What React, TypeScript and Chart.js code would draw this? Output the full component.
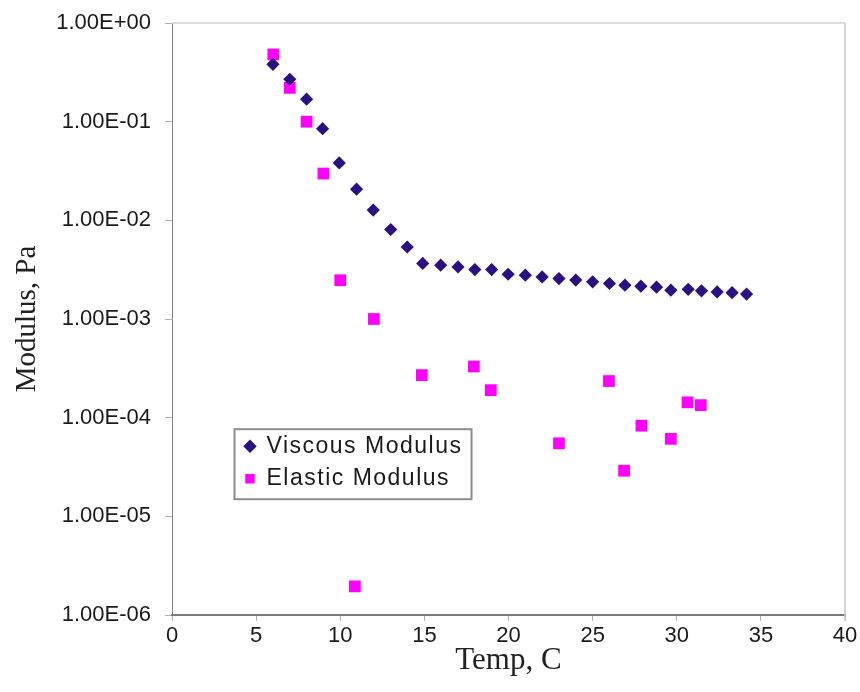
import React, { useEffect, useRef } from "react";
import { Chart, registerables } from "chart.js";

Chart.register(...registerables);

// ---- data ----
const viscousTemp = [6, 7, 8, 8.95, 9.94, 10.97, 11.96, 13, 13.98, 14.9, 15.97, 17, 18, 19, 19.98, 21, 22, 23, 24, 25, 26, 26.92, 27.87, 28.8, 29.65, 30.68, 31.47, 32.4, 33.29, 34.15];
const viscousModulus = [0.381, 0.269, 0.169, 0.085, 0.0382, 0.0207, 0.0127, 0.00807, 0.00537, 0.00366, 0.00351, 0.00337, 0.00317, 0.00317, 0.00284, 0.00278, 0.00267, 0.00257, 0.00248, 0.00238, 0.00229, 0.0022, 0.00215, 0.0021, 0.00196, 0.002, 0.00193, 0.00188, 0.00185, 0.00179];

const elasticTemp = [6.02, 7, 8, 9, 10, 10.87, 12, 14.85, 17.94, 18.95, 23, 25.97, 26.87, 27.9, 29.65, 30.64, 31.43];
const elasticModulus = [0.48, 0.22, 0.1, 0.0298, 0.00247, 1.95e-6, 0.001, 2.7e-4, 3.3e-4, 1.9e-4, 5.5e-5, 2.35e-4, 2.9e-5, 8.3e-5, 6.1e-5, 1.43e-4, 1.34e-4];

const yTickValues = [1e-6, 1e-5, 1e-4, 1e-3, 1e-2, 1e-1, 1];
const yTickLabels = ["1.00E-06", "1.00E-05", "1.00E-04", "1.00E-03", "1.00E-02", "1.00E-01", "1.00E+00"];

const seriesNames = ["Viscous Modulus", "Elastic Modulus"];
const xTitle = "Temp, C";
const yTitle = "Modulus, Pa";

const VISCOUS_COLOR = "#2a1080";
const ELASTIC_COLOR = "#ff00ff";

const frameAndLegendPlugin = {
  id: "frameAndLegend",
  afterLayout(chart: any) {
    const lg = chart.legend;
    const ca = chart.chartArea;
    if (!lg || !ca) return;
    const w = 238;
    const h = 78;
    lg.left = ca.left + 63.5;
    lg.top = ca.top + 402.2;
    lg.width = w;
    lg.height = h;
    lg.right = lg.left + w;
    lg.bottom = lg.top + h;
    if (!lg._spaced) {
      const orig = lg.draw.bind(lg);
      lg.draw = (...args: any[]) => {
        const c = chart.ctx;
        c.save();
        (c as any).letterSpacing = "1.5px";
        orig(...args);
        c.restore();
      };
      lg._spaced = true;
    }
  },
  beforeDatasetsDraw(chart: any) {
    const { ctx, chartArea: ca } = chart;
    ctx.save();
    ctx.lineWidth = 2;
    ctx.strokeStyle = "#dcdcdc";
    ctx.beginPath();
    ctx.moveTo(ca.left, ca.top);
    ctx.lineTo(ca.right, ca.top);
    ctx.stroke();
    ctx.strokeStyle = "#c8c8c8";
    ctx.lineWidth = 1.5;
    ctx.beginPath();
    ctx.moveTo(ca.right, ca.top);
    ctx.lineTo(ca.right, ca.bottom + 6);
    ctx.stroke();
    ctx.restore();
  },
  afterDraw(chart: any) {
    const lg = chart.legend;
    if (!lg) return;
    const ctx = chart.ctx;
    ctx.save();
    ctx.lineWidth = 2;
    ctx.strokeStyle = "#8e8e8e";
    ctx.strokeRect(lg.left - 1, lg.top + 4, 237, 70);
    ctx.restore();
  },
};

export default function App() {
  const canvasRef = useRef<HTMLCanvasElement | null>(null);

  useEffect(() => {
    if (!canvasRef.current) return;
    const chart = new Chart(canvasRef.current, {
      type: "scatter",
      data: {
        datasets: [
          {
            label: seriesNames[0],
            data: viscousTemp.map((x, i) => ({ x, y: viscousModulus[i] })),
            pointStyle: "rectRot",
            pointRadius: 6.6,
            pointHoverRadius: 6.6,
            backgroundColor: VISCOUS_COLOR,
            borderColor: VISCOUS_COLOR,
            pointBorderWidth: 0,
            borderWidth: 0,
          },
          {
            label: seriesNames[1],
            data: elasticTemp.map((x, i) => ({ x, y: elasticModulus[i] })),
            pointStyle: "rect",
            pointRadius: 8.3,
            pointHoverRadius: 8.3,
            backgroundColor: ELASTIC_COLOR,
            borderColor: ELASTIC_COLOR,
            pointBorderWidth: 0,
            borderWidth: 0,
          },
        ],
      },
      options: {
        animation: false,
        responsive: false,
        maintainAspectRatio: false,
        layout: { padding: { top: 23, right: 15, left: 0, bottom: 0 } },
        plugins: {
          tooltip: { enabled: false },
          legend: {
            display: true,
            position: "chartArea",
            align: "start",
            labels: {
              usePointStyle: true,
              boxWidth: 10,
              boxHeight: 9.5,
              padding: 9.5,
              color: "#1a1a1a",
              font: { family: "'Liberation Sans', Arial, sans-serif", size: 23 },
            },
          },
        },
        scales: {
          x: {
            type: "linear",
            min: 0,
            max: 40,
            ticks: {
              stepSize: 5,
              padding: 2,
              color: "#1a1a1a",
              font: { family: "'Liberation Sans', Arial, sans-serif", size: 22 },
              maxRotation: 0,
            },
            grid: { drawOnChartArea: false, drawTicks: true, tickLength: 6, color: "#b0b0b0" },
            border: { display: true, color: "#7a7a7a", width: 2 },
            title: {
              display: true,
              text: xTitle,
              color: "#222",
              padding: { top: 0, bottom: 13 },
              font: { family: "'Liberation Serif', 'Times New Roman', serif", size: 31 },
            },
            afterFit: (scale: any) => {
              scale.height = 77;
              scale.paddingLeft = 0;
              scale.paddingRight = 0;
            },
          },
          y: {
            type: "logarithmic",
            min: 1e-6,
            max: 1,
            afterBuildTicks: (scale: any) => {
              scale.ticks = yTickValues.map((v) => ({ value: v }));
            },
            ticks: {
              padding: 14,
              color: "#1a1a1a",
              font: { family: "'Liberation Sans', Arial, sans-serif", size: 22 },
              callback: (value: any) => {
                const idx = yTickValues.findIndex((v) => Math.abs(Math.log10(v) - Math.log10(Number(value))) < 1e-6);
                return idx >= 0 ? yTickLabels[idx] : "";
              },
            },
            grid: { drawOnChartArea: false, drawTicks: true, tickLength: 7, color: "#b0b0b0" },
            border: { display: true, color: "#808080", width: 1 },
            title: {
              display: true,
              text: yTitle,
              color: "#222",
              padding: { top: 10, bottom: 0 },
              font: { family: "'Liberation Serif', 'Times New Roman', serif", size: 29 },
            },
            afterFit: (scale: any) => {
              scale.width = 172;
              scale.paddingTop = 0;
              scale.paddingBottom = 0;
            },
          },
        },
      },
      plugins: [frameAndLegendPlugin],
    });
    return () => chart.destroy();
  }, []);

  return (
    <div style={{ position: "fixed", left: 0, top: 0, width: 860, height: 692, background: "#fff" }}>
      <canvas ref={canvasRef} width={860} height={692} style={{ width: 860, height: 692, display: "block" }} />
    </div>
  );
}
